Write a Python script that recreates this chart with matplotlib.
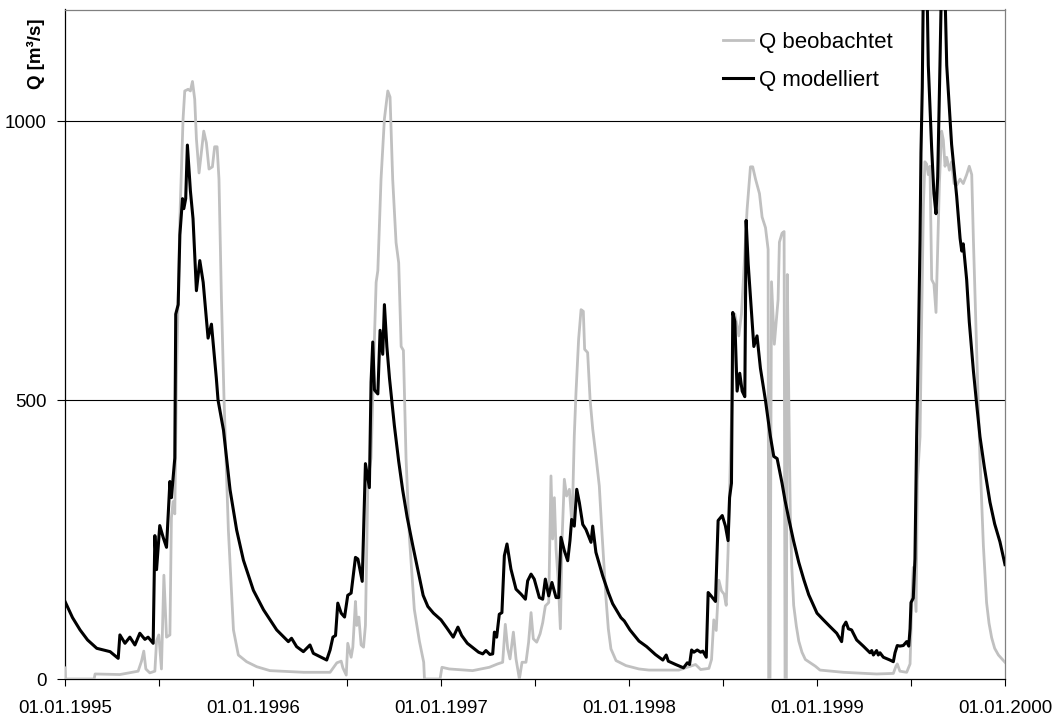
import matplotlib
matplotlib.use("Agg")
import matplotlib.pyplot as plt
from matplotlib.ticker import FixedLocator, FuncFormatter

plt.rcParams['font.family'] = ['Liberation Sans', 'DejaVu Sans']

# ---- data: (decimal year, discharge in m3/s) ----
obs_points = [
    (1995.000, 20), (1995.003, 0), (1995.155, 0), (1995.160, 9), (1995.292, 8), (1995.389, 14),
    (1995.407, 32), (1995.419, 50), (1995.430, 18), (1995.451, 11), (1995.478, 14), (1995.487, 68),
    (1995.499, 79), (1995.513, 18), (1995.526, 186), (1995.540, 75), (1995.558, 79), (1995.566, 289),
    (1995.575, 318), (1995.584, 296), (1995.593, 539), (1995.611, 825), (1995.628, 1004),
    (1995.637, 1054), (1995.655, 1057), (1995.667, 1054), (1995.678, 1071), (1995.690, 1039),
    (1995.699, 968), (1995.713, 907), (1995.726, 946), (1995.738, 982), (1995.752, 961),
    (1995.766, 914), (1995.784, 918), (1995.796, 954), (1995.809, 954), (1995.819, 896),
    (1995.832, 682), (1995.846, 500), (1995.869, 267), (1995.896, 88), (1995.922, 43),
    (1995.966, 31), (1996.020, 22), (1996.090, 15), (1996.270, 12), (1996.410, 12),
    (1996.446, 29), (1996.469, 32), (1996.478, 20), (1996.496, 7), (1996.504, 64), (1996.522, 39),
    (1996.531, 57), (1996.545, 139), (1996.552, 96), (1996.563, 111), (1996.575, 61), (1996.588, 57),
    (1996.598, 96), (1996.611, 354), (1996.628, 396), (1996.646, 611), (1996.655, 711),
    (1996.664, 732), (1996.681, 896), (1996.699, 1004), (1996.717, 1054), (1996.729, 1043),
    (1996.743, 896), (1996.761, 782), (1996.775, 746), (1996.788, 596), (1996.800, 589),
    (1996.814, 396), (1996.832, 254), (1996.858, 125), (1996.885, 68), (1996.903, 39),
    (1996.908, 30), (1996.912, 0), (1996.995, 0), (1997.005, 21), (1997.044, 18), (1997.168, 15),
    (1997.257, 21), (1997.301, 27), (1997.328, 30), (1997.342, 98), (1997.355, 54), (1997.367, 36),
    (1997.385, 84), (1997.399, 36), (1997.417, 0), (1997.431, 30), (1997.452, 30), (1997.466, 66),
    (1997.479, 119), (1997.491, 72), (1997.509, 66), (1997.527, 81), (1997.541, 101), (1997.555, 131),
    (1997.573, 137), (1997.585, 364), (1997.594, 251), (1997.603, 325), (1997.612, 233),
    (1997.624, 173), (1997.635, 90), (1997.644, 251), (1997.656, 358), (1997.668, 328),
    (1997.683, 340), (1997.697, 274), (1997.709, 436), (1997.718, 513), (1997.732, 609),
    (1997.745, 662), (1997.757, 659), (1997.764, 591), (1997.780, 585), (1997.793, 501),
    (1997.807, 448), (1997.824, 400), (1997.842, 346), (1997.856, 263), (1997.878, 143),
    (1997.890, 90), (1997.904, 54), (1997.931, 33), (1997.984, 24), (1998.053, 18), (1998.106, 16),
    (1998.265, 16), (1998.354, 26), (1998.381, 17), (1998.425, 19), (1998.439, 35), (1998.451, 106),
    (1998.464, 87), (1998.478, 177), (1998.492, 158), (1998.506, 152), (1998.517, 132),
    (1998.527, 229), (1998.540, 403), (1998.549, 512), (1998.563, 654), (1998.584, 615),
    (1998.598, 654), (1998.611, 731), (1998.628, 841), (1998.646, 918), (1998.658, 918),
    (1998.673, 896), (1998.694, 870), (1998.708, 828), (1998.726, 809), (1998.740, 770),
    (1998.743, 0), (1998.750, 0), (1998.758, 712), (1998.773, 600), (1998.793, 680),
    (1998.800, 783), (1998.814, 799), (1998.825, 802), (1998.830, 0), (1998.837, 0),
    (1998.842, 725), (1998.850, 500), (1998.858, 293), (1998.866, 200), (1998.876, 132),
    (1998.890, 95), (1998.903, 68), (1998.920, 48), (1998.938, 35), (1998.991, 23), (1999.016, 16),
    (1999.140, 12), (1999.317, 9), (1999.406, 10), (1999.420, 23), (1999.427, 27), (1999.441, 14),
    (1999.477, 12), (1999.495, 27), (1999.504, 137), (1999.512, 200), (1999.527, 121),
    (1999.534, 356), (1999.548, 434), (1999.557, 653), (1999.566, 849), (1999.574, 927),
    (1999.583, 923), (1999.592, 904), (1999.601, 919), (1999.610, 716), (1999.622, 708),
    (1999.633, 657), (1999.640, 747), (1999.651, 888), (1999.663, 982), (1999.672, 966),
    (1999.681, 919), (1999.690, 935), (1999.704, 912), (1999.716, 927), (1999.729, 888),
    (1999.743, 885), (1999.761, 896), (1999.778, 888), (1999.796, 904), (1999.810, 919),
    (1999.823, 904), (1999.832, 786), (1999.849, 591), (1999.867, 395), (1999.885, 239),
    (1999.902, 137), (1999.915, 100), (1999.929, 74), (1999.945, 55), (1999.965, 43), (2000.000, 30),
]

mod_points = [
    (1995.000, 139), (1995.040, 110), (1995.080, 88), (1995.120, 70), (1995.169, 55), (1995.240, 49),
    (1995.283, 37), (1995.292, 79), (1995.319, 64), (1995.345, 75), (1995.372, 61), (1995.398, 82),
    (1995.425, 71), (1995.442, 75), (1995.469, 64), (1995.478, 257), (1995.487, 196), (1995.504, 275),
    (1995.522, 254), (1995.540, 236), (1995.558, 354), (1995.566, 325), (1995.584, 396),
    (1995.589, 654), (1995.602, 671), (1995.611, 796), (1995.625, 861), (1995.632, 843),
    (1995.642, 861), (1995.651, 957), (1995.667, 875), (1995.681, 825), (1995.699, 696),
    (1995.717, 750), (1995.735, 711), (1995.761, 611), (1995.779, 636), (1995.805, 539),
    (1995.814, 500), (1995.843, 446), (1995.878, 339), (1995.913, 267), (1995.949, 213),
    (1996.002, 159), (1996.056, 124), (1996.126, 88), (1996.188, 67), (1996.205, 73), (1996.232, 58),
    (1996.268, 49), (1996.303, 61), (1996.321, 46), (1996.392, 34), (1996.410, 52), (1996.425, 75),
    (1996.439, 78), (1996.451, 136), (1996.469, 118), (1996.487, 111), (1996.504, 150),
    (1996.522, 154), (1996.545, 218), (1996.558, 215), (1996.581, 175), (1996.598, 386),
    (1996.619, 343), (1996.628, 532), (1996.637, 604), (1996.646, 518), (1996.664, 511),
    (1996.676, 625), (1996.690, 582), (1996.699, 671), (1996.712, 596), (1996.726, 539),
    (1996.752, 454), (1996.775, 390), (1996.796, 339), (1996.820, 290), (1996.850, 239),
    (1996.880, 190), (1996.905, 150), (1996.930, 130), (1996.960, 118), (1997.000, 106),
    (1997.030, 92), (1997.065, 75), (1997.090, 93), (1997.110, 78), (1997.140, 64), (1997.170, 56),
    (1997.200, 48), (1997.222, 45), (1997.239, 51), (1997.260, 44), (1997.275, 45), (1997.284, 84),
    (1997.296, 75), (1997.310, 116), (1997.324, 119), (1997.337, 221), (1997.351, 242),
    (1997.372, 197), (1997.399, 161), (1997.426, 152), (1997.449, 143), (1997.461, 176),
    (1997.479, 188), (1997.496, 179), (1997.523, 146), (1997.541, 143), (1997.555, 179),
    (1997.573, 149), (1997.590, 173), (1997.612, 146), (1997.626, 146), (1997.638, 254),
    (1997.656, 230), (1997.674, 212), (1997.686, 248), (1997.695, 286), (1997.709, 274),
    (1997.722, 340), (1997.736, 316), (1997.754, 277), (1997.771, 268), (1997.798, 245),
    (1997.807, 274), (1997.824, 227), (1997.860, 185), (1997.890, 155), (1997.913, 135),
    (1997.957, 110), (1997.975, 104), (1998.005, 88), (1998.053, 68), (1998.094, 58), (1998.140, 44),
    (1998.180, 34), (1998.198, 43), (1998.209, 32), (1998.248, 26), (1998.290, 20), (1998.310, 29),
    (1998.322, 26), (1998.333, 52), (1998.345, 48), (1998.363, 52), (1998.381, 48), (1998.393, 50),
    (1998.411, 39), (1998.421, 155), (1998.434, 150), (1998.460, 139), (1998.474, 284),
    (1998.496, 293), (1998.513, 274), (1998.527, 248), (1998.535, 325), (1998.545, 351),
    (1998.552, 657), (1998.563, 641), (1998.575, 516), (1998.589, 548), (1998.602, 516),
    (1998.616, 506), (1998.623, 822), (1998.634, 744), (1998.651, 660), (1998.664, 596),
    (1998.681, 615), (1998.699, 557), (1998.726, 499), (1998.752, 435), (1998.770, 399),
    (1998.788, 395), (1998.814, 351), (1998.830, 320), (1998.850, 287), (1998.875, 248),
    (1998.903, 209), (1998.930, 178), (1998.956, 151), (1998.980, 133), (1999.000, 118),
    (1999.034, 106), (1999.069, 94), (1999.105, 82), (1999.131, 67), (1999.140, 94), (1999.154, 102),
    (1999.167, 90), (1999.184, 88), (1999.211, 70), (1999.246, 59), (1999.282, 47), (1999.291, 51),
    (1999.300, 43), (1999.317, 51), (1999.326, 43), (1999.335, 47), (1999.353, 39), (1999.388, 34),
    (1999.406, 31), (1999.415, 47), (1999.427, 60), (1999.441, 59), (1999.459, 60), (1999.477, 67),
    (1999.488, 59), (1999.495, 90), (1999.500, 137), (1999.512, 145), (1999.521, 215),
    (1999.530, 434), (1999.539, 591), (1999.548, 786), (1999.553, 943), (1999.560, 1060),
    (1999.569, 1350), (1999.580, 1350), (1999.592, 1100), (1999.610, 950), (1999.622, 870),
    (1999.633, 834), (1999.642, 900), (1999.654, 1100), (1999.665, 1300), (1999.676, 1300),
    (1999.690, 1100), (1999.716, 958), (1999.743, 865), (1999.761, 790), (1999.770, 767),
    (1999.778, 780), (1999.796, 716), (1999.810, 640), (1999.832, 552), (1999.850, 490),
    (1999.867, 434), (1999.890, 380), (1999.920, 317), (1999.945, 278), (1999.973, 246),
    (2000.000, 205),
]

years = [1995, 1996, 1997, 1998, 1999, 2000]
y_ticks = [0, 500, 1000]
label_obs = "Q beobachtet"
label_mod = "Q modelliert"
y_label = "Q [m³/s]"

obs_t, obs_q = zip(*obs_points)
mod_t, mod_q = zip(*mod_points)

# ---- figure ----
W, H = 1059, 719
fig = plt.figure(figsize=(W / 100, H / 100), dpi=100)
ax = fig.add_axes([65 / W, (H - 679) / H, 940 / W, 669.5 / H])

ax.plot(obs_t, obs_q, color='#c0c0c0', lw=2.0, label=label_obs, solid_joinstyle='round', zorder=3)
ax.plot(mod_t, mod_q, color='black', lw=2.2, label=label_mod, solid_joinstyle='round', zorder=4)

ax.set_xlim(1995, 2000)
ax.set_ylim(0, 1200)

for v in y_ticks[1:]:
    ax.axhline(v, color='black', lw=0.8, zorder=1)

ax.xaxis.set_major_locator(FixedLocator(years))
ax.xaxis.set_minor_locator(FixedLocator([y + 0.5 for y in years[:-1]]))
ax.xaxis.set_major_formatter(FuncFormatter(lambda v, p: f"01.01.{int(round(v))}"))
ax.set_yticks(y_ticks)

ax.tick_params(axis='x', which='both', direction='out', length=5, width=0.8, color='black',
               labelsize=13.5, pad=10)
ax.tick_params(axis='y', which='both', direction='out', length=6, width=0.8, color='black',
               labelsize=13.5, pad=7)

for s in ['left', 'bottom']:
    ax.spines[s].set_color('black')
    ax.spines[s].set_linewidth(0.9)
for s in ['top', 'right']:
    ax.spines[s].set_color('#808080')
    ax.spines[s].set_linewidth(0.9)

ax.set_ylabel(y_label, fontsize=13.5, fontweight='bold', loc='top')
ax.yaxis.set_label_coords(-0.021, 0.986)

ax.legend(loc='upper left', bbox_to_anchor=(0.700, 0.966), frameon=False, fontsize=16,
          handlelength=1.35, handletextpad=0.25, labelspacing=0.75, borderpad=0,
          borderaxespad=0)

fig.savefig('out.png', dpi=100)
